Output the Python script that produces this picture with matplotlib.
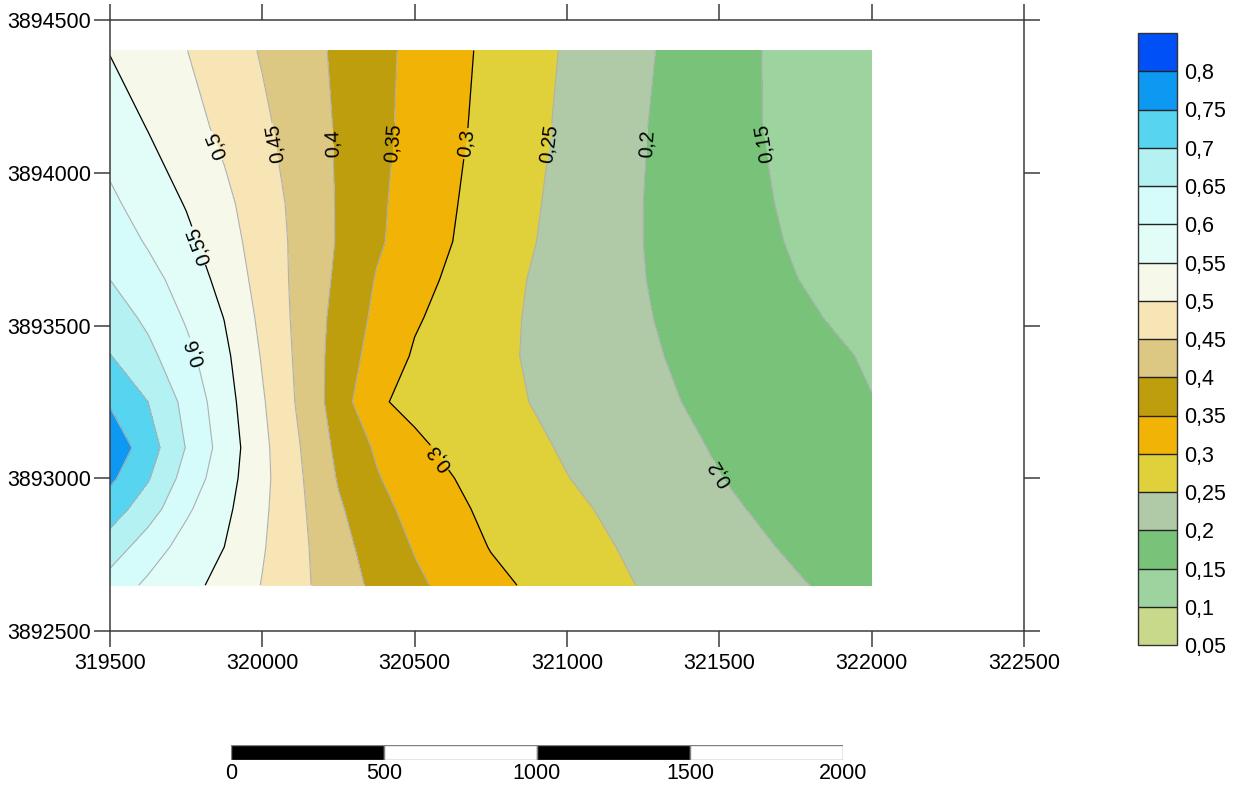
import numpy as np
import matplotlib
matplotlib.use('Agg')
import matplotlib.pyplot as plt

plt.rcParams['font.family'] = ['Liberation Sans', 'DejaVu Sans']

# grid nodes (easting / northing)
x_nodes = [319500, 319625, 319750, 319875, 320000, 320250, 320375, 320500,
           320750, 321000, 321250, 321500, 321750, 322000]
y_nodes = [3892650, 3892775, 3892900, 3893000, 3893100, 3893250, 3893400,
           3893525, 3893650, 3893775, 3893900, 3894150, 3894400]

# z values, one row per northing (bottom to top)
z_rows = [
    [0.628, 0.591, 0.565, 0.535, 0.498, 0.423, 0.389, 0.359, 0.312, 0.277, 0.247, 0.225, 0.204, 0.182],
    [0.678, 0.624, 0.582, 0.550, 0.504, 0.416, 0.378, 0.347, 0.298, 0.268, 0.240, 0.217, 0.194, 0.174],
    [0.724, 0.674, 0.608, 0.562, 0.509, 0.406, 0.366, 0.334, 0.288, 0.259, 0.233, 0.208, 0.185, 0.166],
    [0.760, 0.704, 0.631, 0.571, 0.513, 0.396, 0.354, 0.322, 0.280, 0.251, 0.226, 0.201, 0.179, 0.161],
    [0.785, 0.724, 0.648, 0.579, 0.512, 0.388, 0.344, 0.308, 0.274, 0.245, 0.220, 0.196, 0.175, 0.158],
    [0.745, 0.700, 0.636, 0.571, 0.505, 0.376, 0.305, 0.290, 0.263, 0.237, 0.211, 0.189, 0.170, 0.151],
    [0.702, 0.663, 0.614, 0.561, 0.496, 0.379, 0.330, 0.295, 0.261, 0.232, 0.206, 0.184, 0.164, 0.146],
    [0.676, 0.640, 0.595, 0.549, 0.488, 0.384, 0.340, 0.305, 0.263, 0.231, 0.203, 0.180, 0.158, 0.136],
    [0.650, 0.617, 0.579, 0.534, 0.481, 0.391, 0.347, 0.316, 0.267, 0.231, 0.201, 0.176, 0.151, 0.127],
    [0.629, 0.595, 0.562, 0.521, 0.477, 0.396, 0.357, 0.326, 0.274, 0.234, 0.200, 0.172, 0.146, 0.120],
    [0.609, 0.579, 0.547, 0.511, 0.473, 0.396, 0.359, 0.329, 0.278, 0.236, 0.200, 0.171, 0.142, 0.118],
    [0.578, 0.548, 0.518, 0.489, 0.459, 0.395, 0.363, 0.335, 0.285, 0.241, 0.202, 0.168, 0.136, 0.115],
    [0.548, 0.524, 0.501, 0.474, 0.446, 0.392, 0.364, 0.338, 0.289, 0.245, 0.206, 0.169, 0.135, 0.110],
]

levels = [0.05, 0.1, 0.15, 0.2, 0.25, 0.3, 0.35, 0.4, 0.45, 0.5,
          0.55, 0.6, 0.65, 0.7, 0.75, 0.8, 0.85]
band_colors = ['#c9d98b', '#9dd39f', '#78c27a', '#b0caa8', '#e0d03a', '#f1b406',
               '#bf9e0d', '#dcc882', '#f8e5b6', '#f6f9ea', '#e2fcf8', '#d5fbfb',
               '#b4f1f3', '#57d4f0', '#0d99f2', '#0050f8']
major_levels = [0.05, 0.3, 0.55, 0.8]

# where the contour labels sit
label_pos = [(319854, 3894091), (320051, 3894097), (320229, 3894097),
             (320435, 3894097), (320658, 3894097), (320928, 3894097),
             (321256, 3894097), (321640, 3894097), (319795, 3893763),
             (319779, 3893413), (320550, 3893043), (321495, 3893011)]

x_ticks = [319500, 320000, 320500, 321000, 321500, 322000, 322500]
y_ticks = [3892500, 3893000, 3893500, 3894000, 3894500]

scale_ticks = [0, 500, 1000, 1500, 2000]
scale_fill = ['black', 'white', 'black', 'white']


def comma(v):
    return ('%g' % v).replace('.', ',')


fig = plt.figure(figsize=(12.38, 7.85), dpi=100)
W, H = 1238.0, 785.0

# main map
ax = fig.add_axes([110 / W, 154 / H, 914 / W, 611 / H])
X, Y = np.meshgrid(x_nodes, y_nodes)
Z = np.array(z_rows)
cf = ax.contourf(X, Y, Z, levels=levels, colors=band_colors)
line_cols = ['black' if lv in major_levels else '#aeb0b2' for lv in levels]
line_w = [0.9 if lv in major_levels else 0.8 for lv in levels]
cs = ax.contour(X, Y, Z, levels=levels, colors=line_cols, linewidths=line_w)
lbl = ax.clabel(cs, manual=label_pos, fmt=comma, fontsize=14.5, inline=True,
                inline_spacing=4, colors='black')
# surfer keeps labels reading upwards along the line
for t in lbl:
    r = t.get_rotation()
    if r > 180:
        t.set_rotation(r - 180)

ax.set_xlim(319500, 322500)
ax.set_ylim(3892500, 3894500)
ax.set_xticks(x_ticks)
ax.set_xticklabels([str(v) for v in x_ticks])
ax.set_yticks(y_ticks)
ax.set_yticklabels([str(v) for v in y_ticks])
ax.tick_params(direction='out', length=11.5, width=1.1, color='#3c3c3c',
               top=True, right=True, labelsize=15.5)
ax.tick_params(axis='x', pad=4)
ax.tick_params(axis='y', pad=2)
for s in ax.spines.values():
    s.set_color('#3c3c3c')
    s.set_linewidth(1.1)

# colour scale
cax = fig.add_axes([1138 / W, 140 / H, 39 / W, 612 / H])
cb = fig.colorbar(cf, cax=cax, ticks=levels[:-1], drawedges=True)
cb.ax.set_yticklabels([comma(v) for v in levels[:-1]])
cb.ax.tick_params(length=0, labelsize=15.5, pad=5)
cb.outline.set_edgecolor('#333333')
cb.outline.set_linewidth(1.0)
cb.dividers.set_color('#222222')
cb.dividers.set_linewidth(1.0)

# scale bar
sb = fig.add_axes([231 / W, 25 / H, 612 / W, 15 / H])
sb.bar(scale_ticks[:-1], 1, width=np.diff(scale_ticks), align='edge',
       color=scale_fill, edgecolor='#808080', linewidth=1.0)
sb.set_xlim(0, 2000)
sb.set_ylim(0, 1)
sb.set_yticks([])
sb.set_xticks(scale_ticks)
sb.set_xticklabels([str(v) for v in scale_ticks])
sb.tick_params(axis='x', length=0, labelsize=15.5, pad=2)
for s in sb.spines.values():
    s.set_visible(False)

fig.savefig('out.png', dpi=100)
